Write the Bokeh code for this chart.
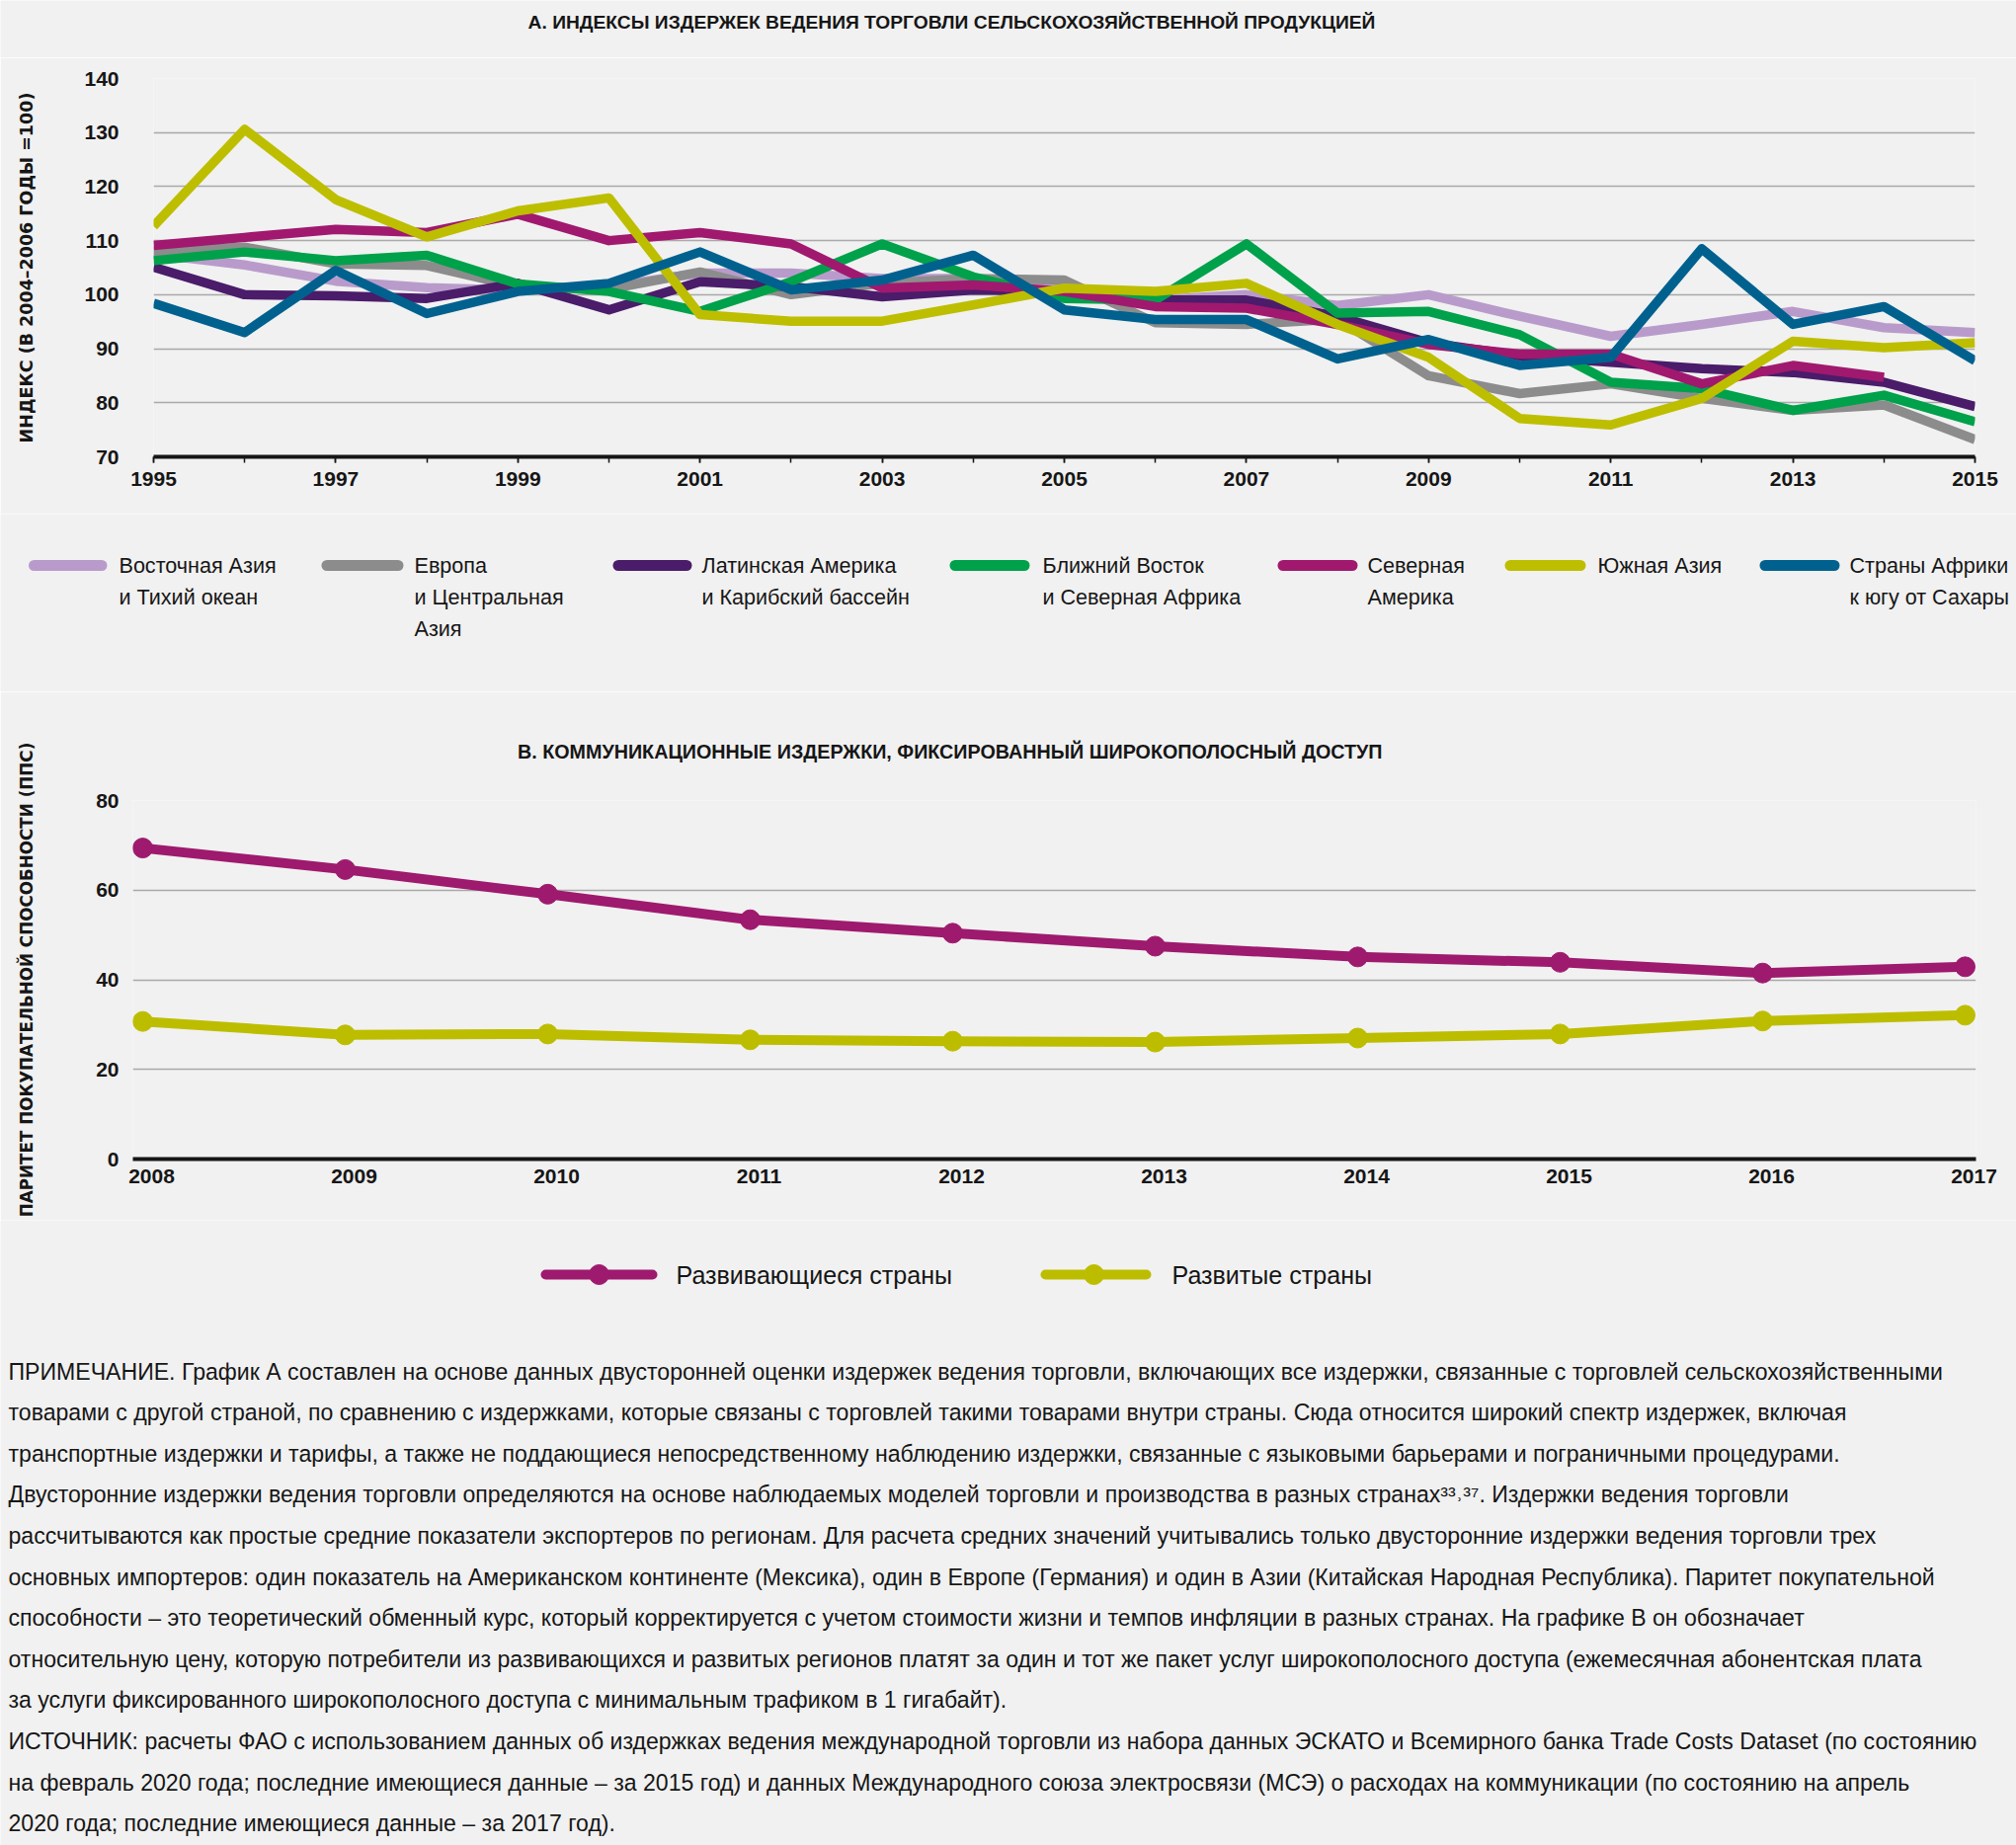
import os
import glob
import struct
from bokeh.plotting import figure
from bokeh.models import Range1d, FixedTicker, CustomJSTickFormatter
from bokeh.layouts import column, row
from bokeh.embed import file_html
from bokeh.resources import INLINE
from bokeh.core.properties import value

# ---------------- data ----------------
years_a = list(range(1995, 2016))
east_asia = [107.5, 105.5, 102.5, 101.3, 100.8, 101.5, 104.0, 104.0, 103.0, 103.0, 101.0,
             99.0, 100.0, 98.0, 100.0, 96.0, 92.3, 94.5, 96.9, 93.9, 93.0]
europe = [108.0, 108.8, 105.7, 105.4, 101.5, 101.0, 104.2, 100.0, 102.1, 103.0, 102.7,
          94.8, 94.5, 95.5, 85.0, 81.7, 83.5, 80.8, 78.6, 79.6, 73.2]
latin_america = [105.1, 100.0, 99.8, 99.3, 102.1, 97.2, 102.4, 101.5, 99.6, 100.9, 100.6,
                 99.0, 99.0, 96.0, 91.1, 88.7, 87.5, 86.3, 85.6, 83.8, 79.3]
mena = [106.3, 107.9, 106.3, 107.3, 102.0, 100.6, 96.9, 102.4, 109.4, 103.3, 99.3,
        99.0, 109.4, 96.6, 96.9, 92.6, 83.8, 82.6, 78.6, 81.4, 76.5]
north_america = [109.1, 110.6, 112.1, 111.5, 114.9, 110.0, 111.5, 109.4, 101.2, 101.8, 100.6,
                 97.8, 97.5, 94.5, 90.8, 89.0, 89.0, 83.5, 86.9, 84.7, float("nan")]
south_asia = [112.7, 130.6, 117.6, 110.7, 115.5, 117.9, 96.3, 95.1, 95.1, 98.1, 101.2,
              100.6, 102.1, 94.5, 88.4, 77.1, 75.9, 80.8, 91.4, 90.2, 91.1]
ssa = [98.4, 93.0, 104.5, 96.5, 100.6, 102.1, 107.9, 100.9, 102.7, 107.3, 97.2,
       95.4, 95.4, 88.1, 91.7, 86.9, 88.4, 108.5, 94.5, 97.8, 87.8]

series_names = ["Восточная Азия\nи Тихий океан", "Европа\nи Центральная\nАзия",
                "Латинская Америка\nи Карибский бассейн", "Ближний Восток\nи Северная Африка",
                "Северная\nАмерика", "Южная Азия", "Страны Африки\nк югу от Сахары"]
series_vals = [east_asia, europe, latin_america, mena, north_america, south_asia, ssa]
series_colors = ["#B99BCB", "#8C8C8C", "#4A1C6A", "#00A14B", "#A0196F", "#BEBE00", "#00618F"]

yticks_a = [70, 80, 90, 100, 110, 120, 130, 140]
xticks_a = [1995, 1997, 1999, 2001, 2003, 2005, 2007, 2009, 2011, 2013, 2015]

years_b = list(range(2008, 2018))
developing = [69.4, 64.6, 59.1, 53.4, 50.4, 47.5, 45.1, 43.9, 41.5, 42.9]
developed = [30.7, 27.7, 27.9, 26.6, 26.3, 26.1, 27.0, 27.9, 30.8, 32.1]
b_names = ["Развивающиеся страны", "Развитые страны"]
b_colors = ["#9E1A6E", "#BDBD00"]
yticks_b = [0, 20, 40, 60, 80]

title_a = "А. ИНДЕКСЫ ИЗДЕРЖЕК ВЕДЕНИЯ ТОРГОВЛИ СЕЛЬСКОХОЗЯЙСТВЕННОЙ ПРОДУКЦИЕЙ"
title_b = "В. КОММУНИКАЦИОННЫЕ ИЗДЕРЖКИ, ФИКСИРОВАННЫЙ ШИРОКОПОЛОСНЫЙ ДОСТУП"
ylabel_a = "ИНДЕКС (В 2004–2006 ГОДЫ =100)"
ylabel_b = "ПАРИТЕТ ПОКУПАТЕЛЬНОЙ СПОСОБНОСТИ (ППС)"

notes = [
    "ПРИМЕЧАНИЕ. График А составлен на основе данных двусторонней оценки издержек ведения торговли, включающих все издержки, связанные с торговлей сельскохозяйственными",
    "товарами с другой страной, по сравнению с издержками, которые связаны с торговлей такими товарами внутри страны. Сюда относится широкий спектр издержек, включая",
    "транспортные издержки и тарифы, а также не поддающиеся непосредственному наблюдению издержки, связанные с языковыми барьерами и пограничными процедурами.",
    "Двусторонние издержки ведения торговли определяются на основе наблюдаемых моделей торговли и производства в разных странах³³˒³⁷. Издержки ведения торговли",
    "рассчитываются как простые средние показатели экспортеров по регионам. Для расчета средних значений учитывались только двусторонние издержки ведения торговли трех",
    "основных импортеров: один показатель на Американском континенте (Мексика), один в Европе (Германия) и один в Азии (Китайская Народная Республика). Паритет покупательной",
    "способности – это теоретический обменный курс, который корректируется с учетом стоимости жизни и темпов инфляции в разных странах. На графике В он обозначает",
    "относительную цену, которую потребители из развивающихся и развитых регионов платят за один и тот же пакет услуг широкополосного доступа (ежемесячная абонентская плата",
    "за услуги фиксированного широкополосного доступа с минимальным трафиком в 1 гигабайт).",
    "ИСТОЧНИК: расчеты ФАО с использованием данных об издержках ведения международной торговли из набора данных ЭСКАТО и Всемирного банка Trade Costs Dataset (по состоянию",
    "на февраль 2020 года; последние имеющиеся данные – за 2015 год) и данных Международного союза электросвязи (МСЭ) о расходах на коммуникации (по состоянию на апрель",
    "2020 года; последние имеющиеся данные – за 2017 год).",
]


# ---------------- font metrics (to size texts to the reference widths) ----------------
def find_font(pattern):
    for root in ["/usr/share/fonts", "/usr/local/share/fonts", os.path.expanduser("~/.fonts"),
                 os.path.expanduser("~/.local/share/fonts")]:
        hits = glob.glob(os.path.join(root, "**", pattern), recursive=True)
        if hits:
            return sorted(hits)[0]
    return None


class TTF:
    def __init__(self, path):
        data = open(path, "rb").read()
        ntab = struct.unpack(">H", data[4:6])[0]
        tabs = {}
        for i in range(ntab):
            tag, _, off, ln = struct.unpack(">4sIII", data[12 + 16 * i:28 + 16 * i])
            tabs[tag.decode("latin1")] = off
        head = tabs["head"]
        self.upem = struct.unpack(">H", data[head + 18:head + 20])[0]
        hhea = tabs["hhea"]
        nhm = struct.unpack(">H", data[hhea + 34:hhea + 36])[0]
        hm = tabs["hmtx"]
        self.adv = [struct.unpack(">H", data[hm + 4 * i:hm + 4 * i + 2])[0] for i in range(nhm)]
        cm = tabs["cmap"]
        n = struct.unpack(">H", data[cm + 2:cm + 4])[0]
        self.cmap = {}
        for i in range(n):
            pid, eid, off = struct.unpack(">HHI", data[cm + 4 + 8 * i:cm + 12 + 8 * i])
            sub = cm + off
            fmt = struct.unpack(">H", data[sub:sub + 2])[0]
            if fmt != 4 or not (pid == 0 or (pid == 3 and eid == 1)):
                continue
            segx2 = struct.unpack(">H", data[sub + 6:sub + 8])[0]
            seg = segx2 // 2
            e_off = sub + 14
            s_off = e_off + segx2 + 2
            d_off = s_off + segx2
            r_off = d_off + segx2
            ends = struct.unpack(">%dH" % seg, data[e_off:e_off + segx2])
            starts = struct.unpack(">%dH" % seg, data[s_off:s_off + segx2])
            deltas = struct.unpack(">%dh" % seg, data[d_off:d_off + segx2])
            ros = struct.unpack(">%dH" % seg, data[r_off:r_off + segx2])
            for s in range(seg):
                for c in range(starts[s], ends[s] + 1):
                    if c == 0xFFFF:
                        continue
                    if ros[s] == 0:
                        g = (c + deltas[s]) & 0xFFFF
                    else:
                        addr = r_off + 2 * s + ros[s] + 2 * (c - starts[s])
                        g = struct.unpack(">H", data[addr:addr + 2])[0]
                        if g:
                            g = (g + deltas[s]) & 0xFFFF
                    self.cmap.setdefault(c, g)
            break

    def width(self, text, size=1.0):
        tot = 0
        for ch in text:
            g = self.cmap.get(ord(ch), 0)
            tot += self.adv[g] if g < len(self.adv) else self.adv[-1]
        return tot * size / self.upem


def load(pattern):
    try:
        p = find_font(pattern)
        return TTF(p) if p else None
    except Exception:
        return None


COND = "Liberation Sans"
m_reg = load("LiberationSans-Regular.ttf")
m_bold = load("LiberationSans-Bold.ttf")
if m_reg is None or m_bold is None:
    COND = "DejaVu Sans"
    m_reg = load("DejaVuSans.ttf")
    m_bold = load("DejaVuSans-Bold.ttf")
WIDE = "DejaVu Sans"
m_wide = load("DejaVuSans-Bold.ttf")


def fit(metric, pairs, fallback):
    if metric is None:
        return fallback
    try:
        vals = sorted(t / metric.width(s) for s, t in pairs)
        return vals[len(vals) // 2]
    except Exception:
        return fallback


def measure(metric, text, size, fallback_ratio=0.55):
    if metric is None:
        return fallback_ratio * size * len(text)
    return metric.width(text, size)


notes_size = 22.0
if m_reg is not None:
    notes_size = min(2006 / m_reg.width(line) for line in notes)
legA_size = fit(m_reg, [("Восточная Азия", 160), ("Латинская Америка", 201),
                        ("и Карибский бассейн", 212), ("Ближний Восток", 167),
                        ("и Северная Африка", 195), ("Страны Африки", 159)], 19.0)
if m_reg is not None:
    legA_size = min(legA_size, 162 / m_reg.width("к югу от Сахары"), 162 / m_reg.width("Страны Африки"))
legB_size = fit(m_reg, [("Развивающиеся страны", 281), ("Развитые страны", 203)], 25.0)
titleA_size = fit(m_bold, [(title_a, 863)], 19.0)
titleB_size = fit(m_bold, [(title_b, 879)], 19.0)
ylabA_size = fit(m_wide, [(ylabel_a, 355)], 17.0)
ylabB_size = fit(m_wide, [(ylabel_b, 481)], 16.0)
TICK = 21.0


def px(v):
    return "%.2fpx" % v


# ---------------- styles ----------------
BG = "#F1F1F1"
INK = "#161616"
GRID = "#A9A9A9"
W = 2041          # the page has no body margin: canvas pixels are page pixels
YLAB_X = 28       # centre of the rotated y-axis labels, page x


def no_align(f):
    try:
        f.frame_align = False
        return True
    except Exception:
        return False


def pixel_fig(h):
    f = figure(width=W, height=h, x_range=Range1d(0, W), y_range=Range1d(h, 0),
               output_backend="svg", toolbar_location=None, min_border=0,
               x_axis_location=None, y_axis_location=None,
               background_fill_color=BG, border_fill_color=BG, outline_line_color=None)
    f.grid.visible = False
    no_align(f)
    return f


def style_axes(p, xticker, yticks, ylabel, ylabel_size, ylab_standoff, ytick_standoff):
    p.xgrid.grid_line_color = None
    p.ygrid.ticker = FixedTicker(ticks=yticks)
    p.ygrid.grid_line_color = GRID
    p.ygrid.grid_line_width = 1.5
    ya = p.yaxis[0]
    ya.ticker = FixedTicker(ticks=yticks)
    ya.axis_line_color = None
    ya.major_tick_line_color = None
    ya.minor_tick_line_color = None
    ya.major_tick_out = 0
    ya.major_label_standoff = ytick_standoff
    ya.major_label_text_font = COND
    ya.major_label_text_font_style = "bold"
    ya.major_label_text_font_size = px(TICK)
    ya.major_label_text_color = INK
    ya.axis_label = ylabel
    ya.axis_label_text_font = WIDE
    ya.axis_label_text_font_style = "bold"
    ya.axis_label_text_font_size = px(ylabel_size)
    ya.axis_label_text_color = INK
    ya.axis_label_standoff = int(round(ylab_standoff))
    xa = p.xaxis[0]
    xa.ticker = xticker
    xa.axis_line_color = INK
    xa.axis_line_width = 4
    xa.major_label_text_font = COND
    xa.major_label_text_font_style = "bold"
    xa.major_label_text_font_size = px(TICK)
    xa.major_label_text_color = INK


# ---------------- title A (page y 0..58) ----------------
f1 = pixel_fig(58)
f1.text(x=[963], y=[22], text=[title_a], text_font=value(COND), text_font_style="bold",
        text_font_size=px(titleA_size), text_color=INK, text_align="center", text_baseline="middle")

# ---------------- panel A (page y 58..520) ----------------
A_LEFT = 155
A_TICK_STANDOFF = 35
ylabA_standoff = (A_LEFT - A_TICK_STANDOFF - measure(m_bold, "140", TICK)) - (YLAB_X + 2) - 0.58 * ylabA_size
pA = figure(width=W, height=462, x_range=Range1d(1995, 2015), y_range=Range1d(70, 140),
            min_border_left=A_LEFT, min_border_right=W - 1999, min_border_top=21, min_border_bottom=58,
            output_backend="svg", toolbar_location=None,
            background_fill_color=BG, border_fill_color=BG, outline_line_color=None)
no_align(pA)
style_axes(pA, FixedTicker(ticks=xticks_a, minor_ticks=years_a), yticks_a, ylabel_a,
           ylabA_size, ylabA_standoff, A_TICK_STANDOFF)
pA.xaxis.major_tick_out = 6
pA.xaxis.major_tick_in = 0
pA.xaxis.minor_tick_out = 6
pA.xaxis.minor_tick_in = 0
pA.xaxis.major_tick_line_color = INK
pA.xaxis.minor_tick_line_color = INK
pA.xaxis.major_tick_line_width = 1.5
pA.xaxis.minor_tick_line_width = 1.5
pA.xaxis.major_label_standoff = 9
for vals, col in zip(series_vals, series_colors):
    pA.line(years_a, vals, line_width=9.5, color=col, line_join="round")

# ---------------- legend A (page y 520..700) ----------------
f3 = pixel_fig(180)
sw_x0 = [34, 330.5, 625.5, 966.5, 1298.5, 1528.5, 1786.5]
sw_x1 = [102.5, 402.5, 694.5, 1036.5, 1368.5, 1599.5, 1856.5]
tx = [120, 419, 710, 1055, 1384, 1617, 1872]
f3.segment(x0=sw_x0, y0=[52] * 7, x1=sw_x1, y1=[52] * 7, line_width=11,
           line_cap="round", color=series_colors)
lx, ly, lt = [], [], []
for x0, name in zip(tx, series_names):
    for k, part in enumerate(name.split("\n")):
        lx.append(x0)
        ly.append(52 + 32 * k)
        lt.append(part)
f3.text(x=lx, y=ly, text=lt, text_font=value(COND), text_font_size=px(legA_size), text_color=INK,
        text_align="left", text_baseline="middle")

# ---------------- panel B (page y 700..1235) ----------------
px_per_year = 205.0
B_LEFT = 134
B_TICK_STANDOFF = 14
B_TOP = 110       # frame top at page y 810
ylabB_standoff = (B_LEFT - B_TICK_STANDOFF - measure(m_bold, "80", TICK)) - (YLAB_X + 2) - 0.58 * ylabB_size
pB = figure(width=W, height=535,
            x_range=Range1d(2008 - 10 / px_per_year, 2017 + 11 / px_per_year),
            y_range=Range1d(0, 80),
            min_border_left=B_LEFT, min_border_right=W - 2000, min_border_top=B_TOP,
            min_border_bottom=62,
            output_backend="svg", toolbar_location=None,
            background_fill_color=BG, border_fill_color=BG, outline_line_color=None)
no_align(pB)
# year labels sit ~9 px right of their points in the reference
label_shift = 9 / px_per_year
style_axes(pB, FixedTicker(ticks=[y + label_shift for y in years_b]), yticks_b, ylabel_b,
           ylabB_size, ylabB_standoff, B_TICK_STANDOFF)
pB.xaxis.formatter = CustomJSTickFormatter(code="return Math.round(tick).toString();")
pB.xaxis.major_tick_line_color = None
pB.xaxis.minor_tick_line_color = None
pB.xaxis.major_tick_out = 0
pB.xaxis.major_label_standoff = 10
for vals, col in zip([developing, developed], b_colors):
    pB.line(years_b, vals, line_width=10, color=col, line_join="round")
    pB.scatter(years_b, vals, size=20, color=col)
# panel title: centred 50 px above the frame top, at page x 963
tB_w = measure(m_bold, title_b, titleB_size)
pB.title.text = title_b
pB.title.align = "left"
pB.title.vertical_align = "middle"
pB.title.offset = 963 - tB_w / 2 - B_LEFT
pB.title.standoff = int(round(100 - 1.15 * titleB_size - 2))
pB.title.text_font = COND
pB.title.text_font_style = "bold"
pB.title.text_font_size = px(titleB_size)
pB.title.text_color = INK

# ---------------- legend B + notes (page y 1235..1868) ----------------
f5 = pixel_fig(633)
f5.segment(x0=[552, 1058], y0=[55, 55], x1=[660, 1160], y1=[55, 55], line_width=10,
           line_cap="round", color=b_colors)
f5.scatter(x=[606, 1107], y=[55, 55], size=20, color=b_colors)
f5.text(x=[684, 1186], y=[55, 55], text=b_names, text_font=value(COND), text_font_size=px(legB_size),
        text_color=INK, text_align="left", text_baseline="middle")
f5.text(x=[8] * len(notes), y=[153 + 41.6 * k for k in range(len(notes))], text=notes,
        text_font=value(COND), text_font_size=px(notes_size), text_color=INK,
        text_align="left", text_baseline="middle")

if no_align(pA):
    layout = column(f1, pA, f3, pB, f5, spacing=0)
else:
    layout = column(row(f1), row(pA), row(f3), row(pB), row(f5), spacing=0)
open("out.html", "w").write(file_html(layout, INLINE))
